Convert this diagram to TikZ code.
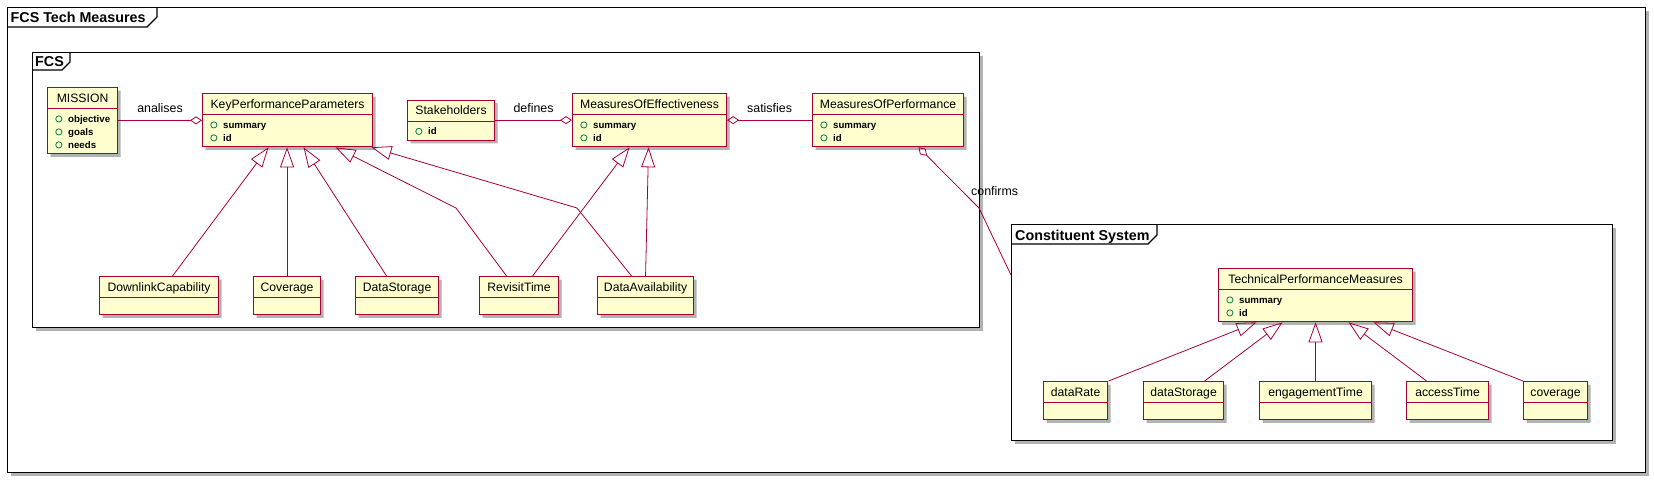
\documentclass[tikz,border=0pt]{standalone}
\usepackage{fontspec}
\setmainfont{Liberation Sans}
\usepackage{xcolor}
\usepackage{tikz}
\usetikzlibrary{shapes.multipart,arrows.meta,shadows}

\definecolor{umlred}{HTML}{A80036}
\definecolor{umlfill}{HTML}{FEFECE}
\definecolor{attrgreen}{HTML}{038048}

\newcommand{\attrmark}{\tikz[baseline=-3.3pt]\draw[attrgreen,line width=0.8pt,fill=none] (0,0) circle[radius=3.1pt];}
\newcommand{\attr}[1]{\hbox{\hspace*{7.8pt}\attrmark\hspace{5.8pt}#1}}
\newcommand{\clsname}[1]{\fontsize{12.2}{14}\selectfont\rule[-6pt]{0pt}{20pt}#1}
\newcommand{\clsbody}[1]{\fontsize{9.7}{13}\selectfont\bfseries
  \vbox{\baselineskip=13pt\lineskiplimit=-100pt\hbox{\rule{0pt}{14pt}}\vskip-14pt #1\hbox{\rule[-5pt]{0pt}{5pt}}\vskip-13pt}}
\newcommand{\clsempty}{\rule{0pt}{16pt}}

\tikzset{
  umlclass/.style={rectangle split, rectangle split parts=2, rectangle split part align={center,left},
    draw=umlred, line width=1.1pt, fill=umlfill, inner xsep=0pt, inner ysep=0pt, anchor=north west,
    drop shadow={shadow xshift=3pt, shadow yshift=-3pt, opacity=.3, fill=black}},
  umlframe/.style={draw=black, line width=1.4pt, fill=white, inner sep=0pt, anchor=north west,
    drop shadow={shadow xshift=3pt, shadow yshift=-3pt, opacity=.3, fill=black}},
  frametab/.style={draw=black, line width=1.1pt},
  frametitle/.style={font=\fontsize{14.3}{16}\selectfont\bfseries, inner sep=0pt, anchor=base west},
  linklabel/.style={font=\fontsize{12.4}{14}\selectfont, inner sep=1pt},
  genline/.style={draw=umlred, line width=0.8pt, -{Triangle[open, length=20pt, width=14pt]}},
  aggline/.style={draw=umlred, line width=0.8pt, -{Diamond[open, length=12pt, width=8pt]}}
}

\begin{document}
\begin{tikzpicture}[x=1pt,y=-1pt]
\useasboundingbox (0,0) rectangle (1654,483);

\node[umlframe, minimum width=1638pt, minimum height=465pt] (outer) at (7,7) {};
\draw[frametab] ([yshift=-20pt]outer.north west) -- ++(140,0) -- ++(10,-10) -- ([xshift=150pt]outer.north west);
\node[frametitle] (outertitle) at (10.5,22.5) {FCS Tech Measures};

\node[umlframe, minimum width=947pt, minimum height=275pt] (fcs) at (32,52) {};
\draw[frametab] ([yshift=-18pt]fcs.north west) -- ++(30,0) -- ++(8,-8) -- ([xshift=38pt]fcs.north west);
\node[frametitle] (fcstitle) at (35,66.5) {FCS};

\node[umlframe, minimum width=601pt, minimum height=216pt] (cs) at (1011,224) {};
\draw[frametab] ([yshift=-20pt]cs.north west) -- ++(137,0) -- ++(9,-9) -- ([xshift=146pt]cs.north west);
\node[frametitle] (cstitle) at (1015,240.5) {Constituent System};

\node[umlclass, minimum width=70pt] (mission) at (47,87) {\clsname{MISSION}\nodepart{two}\clsbody{\attr{objective}\attr{goals}\attr{needs}}};
\node[umlclass, minimum width=170pt] (kpp) at (202,93) {\clsname{KeyPerformanceParameters}\nodepart{two}\clsbody{\attr{summary}\attr{id}}};
\node[umlclass, minimum width=87pt] (stake) at (407,99.5) {\clsname{Stakeholders}\nodepart{two}\clsbody{\attr{id}}};
\node[umlclass, minimum width=154pt] (moe) at (572,93) {\clsname{MeasuresOfEffectiveness}\nodepart{two}\clsbody{\attr{summary}\attr{id}}};
\node[umlclass, minimum width=151pt] (mop) at (812,93) {\clsname{MeasuresOfPerformance}\nodepart{two}\clsbody{\attr{summary}\attr{id}}};

\node[umlclass, minimum width=119pt] (dlcap) at (99,276) {\clsname{DownlinkCapability}\nodepart{two}\clsempty};
\node[umlclass, minimum width=67pt] (cover) at (253,276) {\clsname{Coverage}\nodepart{two}\clsempty};
\node[umlclass, minimum width=83pt] (dstore) at (355,276) {\clsname{DataStorage}\nodepart{two}\clsempty};
\node[umlclass, minimum width=79pt] (revisit) at (479,276) {\clsname{RevisitTime}\nodepart{two}\clsempty};
\node[umlclass, minimum width=96pt] (davail) at (597,276) {\clsname{DataAvailability}\nodepart{two}\clsempty};

\node[umlclass, minimum width=194pt] (tpm) at (1218,268) {\clsname{TechnicalPerformanceMeasures}\nodepart{two}\clsbody{\attr{summary}\attr{id}}};
\node[umlclass, minimum width=64pt] (drate) at (1043,381) {\clsname{dataRate}\nodepart{two}\clsempty};
\node[umlclass, minimum width=80pt] (dstor) at (1143,381) {\clsname{dataStorage}\nodepart{two}\clsempty};
\node[umlclass, minimum width=112pt] (engt) at (1259,381) {\clsname{engagementTime}\nodepart{two}\clsempty};
\node[umlclass, minimum width=82pt] (acct) at (1406,381) {\clsname{accessTime}\nodepart{two}\clsempty};
\node[umlclass, minimum width=64pt] (covg) at (1523,381) {\clsname{coverage}\nodepart{two}\clsempty};

\coordinate (rtbend) at (456,208);
\coordinate (dabend) at (577,208);
\coordinate (cfbend) at (979,208);

\draw[aggline] (mission) -- node[linklabel, above=6pt] (lblanalises) {analises} (kpp);
\draw[aggline] (stake) -- node[linklabel, above=6pt] (lbldefines) {defines} (moe);
\draw[aggline] (mop) -- node[linklabel, above=6pt] (lblsatisfies) {satisfies} (moe);
\draw[aggline] ([yshift=-51pt]cs.north west) -- (cfbend) -- ([xshift=30.5pt]mop.south);
\node[linklabel, anchor=base west] (lblconfirms) at (970,195.5) {confirms};

\draw[genline] ([xshift=13.5pt]dlcap.north) -- ([xshift=-19pt]kpp.south);
\draw[genline] (cover.north) -- (cover.north |- kpp.south);
\draw[genline] ([xshift=-10.5pt]dstore.north) -- ([xshift=16pt]kpp.south);
\draw[genline] ([xshift=-12.5pt]revisit.north) -- (rtbend) -- ([xshift=48pt]kpp.south);
\draw[genline] ([xshift=-14pt]davail.north) -- (dabend) -- ([xshift=84pt]kpp.south);
\draw[genline] ([xshift=13.5pt]revisit.north) -- ([xshift=-20pt]moe.south);
\draw[genline] (davail.north) -- ([xshift=-1pt]moe.south);

\draw[genline] ([xshift=33pt]drate.north) -- ([xshift=-59pt]tpm.south);
\draw[genline] ([xshift=21pt]dstor.north) -- ([xshift=-33pt]tpm.south);
\draw[genline] (engt.north) -- (engt.north |- tpm.south);
\draw[genline] ([xshift=-21pt]acct.north) -- ([xshift=33pt]tpm.south);
\draw[genline] (covg.north west) -- ([xshift=58pt]tpm.south);
\end{tikzpicture}
\end{document}
